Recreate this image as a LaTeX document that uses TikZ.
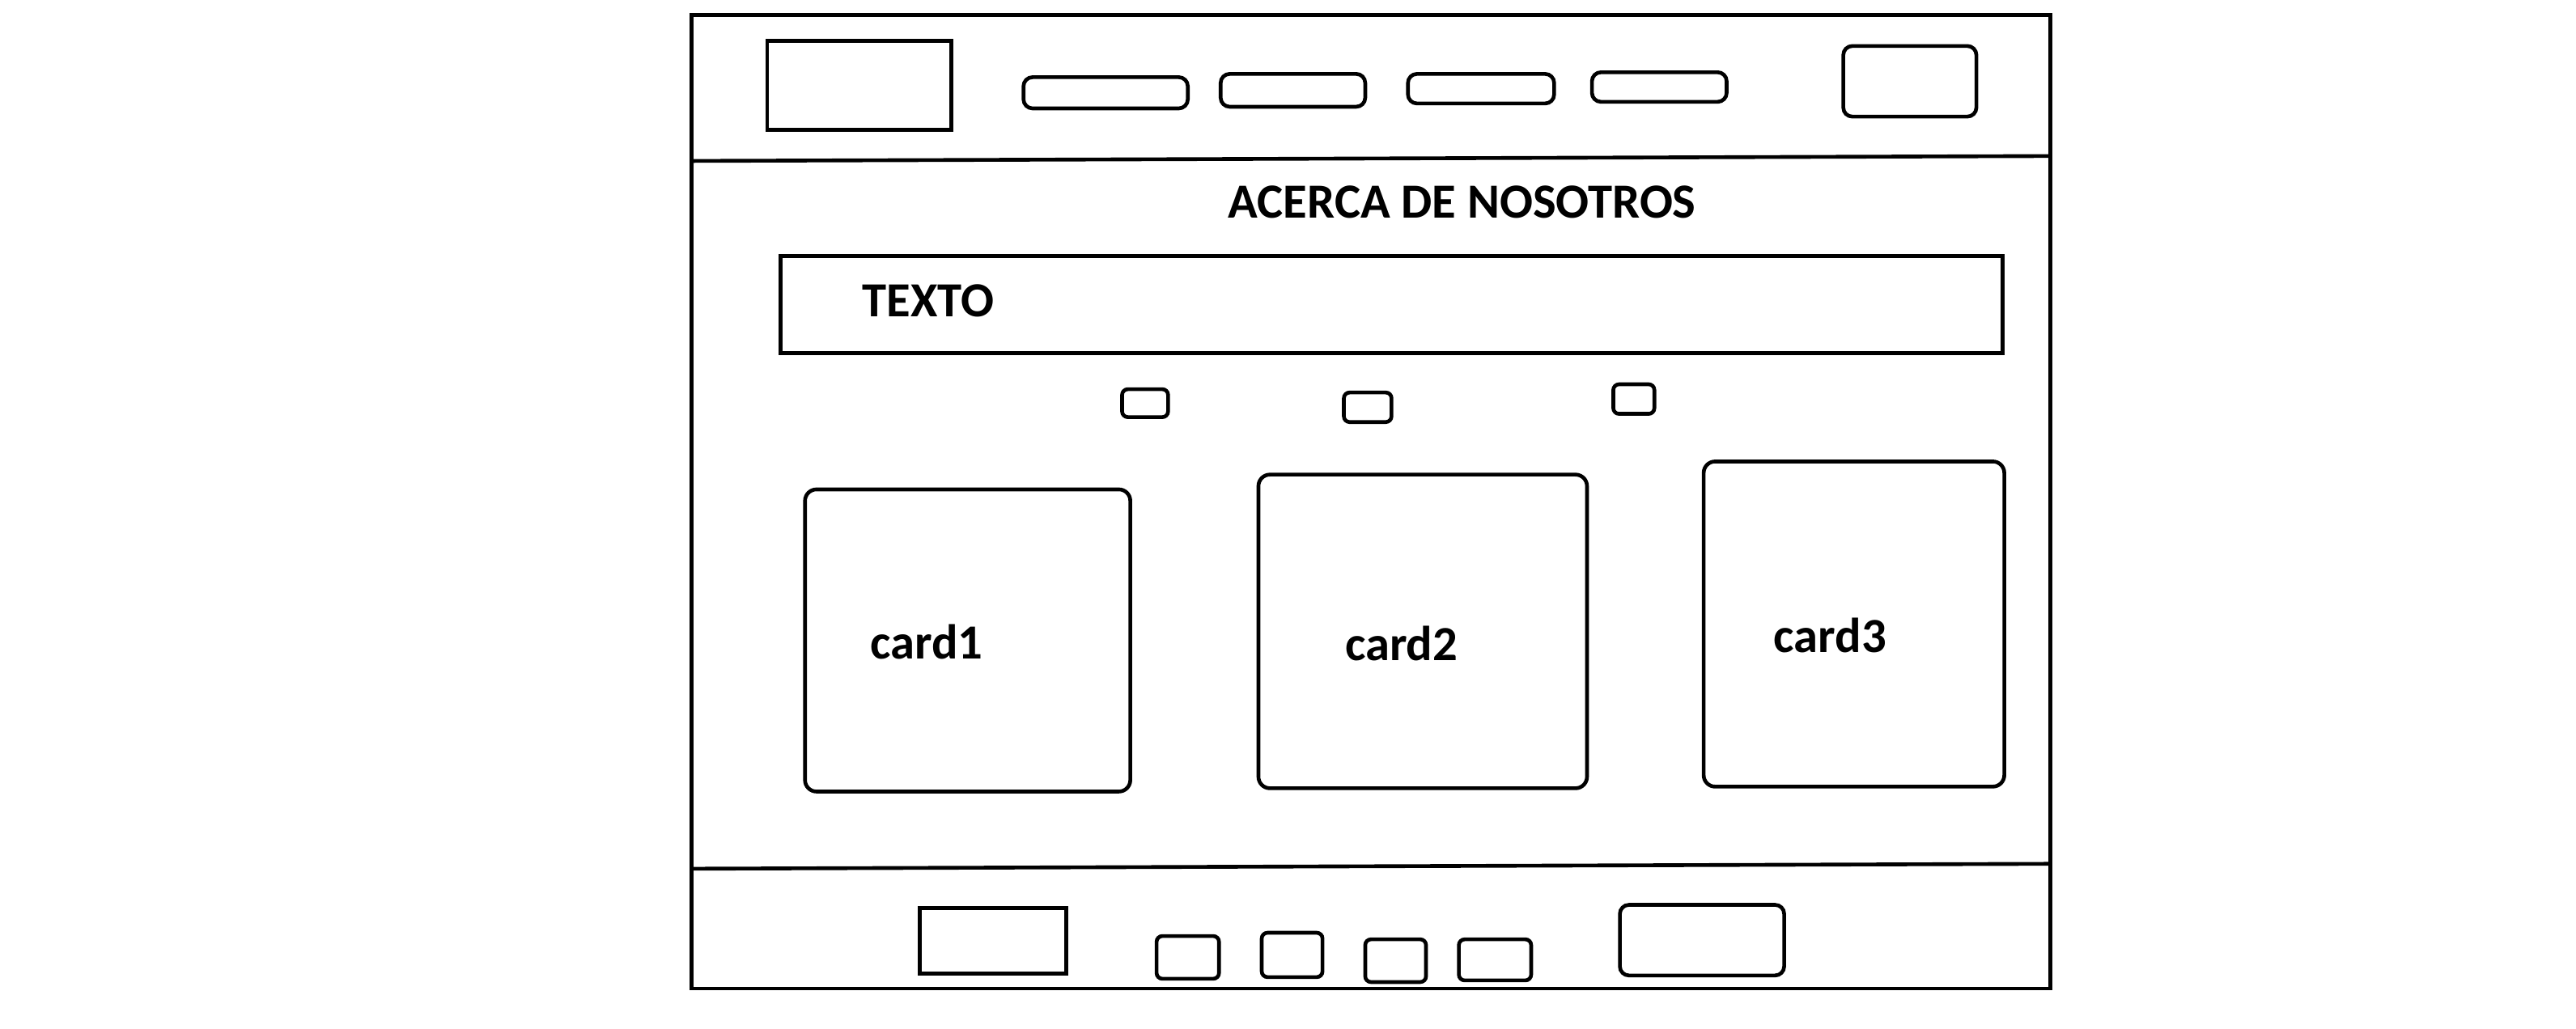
\documentclass[tikz,border=0pt]{standalone}
\usepackage{fontspec}
\setmainfont{Carlito}
\newcommand\wbox[6]{\node[#1, minimum width={(#5-#3)*0.02cm}, minimum height={(#6-#4)*0.02cm}] (#2) at ({(#3+#5)/2},{(#4+#6)/2}) {};}
\begin{document}
\begin{tikzpicture}[x=0.02cm,y=-0.02cm,
  frame/.style={draw, line width=1.3pt, inner sep=0pt, outer sep=0pt},
  sq/.style={frame},
  pill/.style={frame, rounded corners=0.11cm},
  card/.style={frame, rounded corners=0.14cm},
  tiny/.style={frame, rounded corners=0.07cm},
  lbl/.style={font=\fontsize{17}{20}\selectfont\bfseries, inner sep=0pt}]
\useasboundingbox (0,0) rectangle (1568,626.6);
% outer frame
\wbox{sq}{page}{421}{9}{1248}{602}
\draw[line width=1.3pt] (421,98) -- (1248,95);
\draw[line width=1.3pt] (421,529) -- (1248,526);
% header
\wbox{sq}{logo}{467}{25}{579}{79}
\wbox{pill}{nav1}{623}{47}{723}{66}
\wbox{pill}{nav2}{743}{45}{831}{65}
\wbox{pill}{nav3}{857}{45}{946}{63}
\wbox{pill}{nav4}{969}{44}{1051}{62}
\wbox{pill}{btn}{1122}{28}{1203}{71}
% title and text
\node[lbl] (title) at (890,123) {ACERCA DE NOSOTROS};
\wbox{sq}{textbox}{475}{156}{1219}{215}
\node[lbl] (texto) at (565,183) {TEXTO};
% small squares
\wbox{tiny}{s1}{683}{237}{711}{254}
\wbox{tiny}{s2}{818}{239}{847}{257}
\wbox{tiny}{s3}{982}{234}{1007}{252}
% cards
\wbox{card}{c1}{490}{298}{688}{482}
\wbox{card}{c2}{766}{289}{966}{480}
\wbox{card}{c3}{1037}{281}{1220}{479}
\node[lbl] (c1l) at (564,391) {card1};
\node[lbl] (c2l) at (853,392) {card2};
\node[lbl] (c3l) at (1114,387) {card3};
% footer
\wbox{sq}{flogo}{560}{553}{649}{593}
\wbox{tiny}{f1}{704}{570}{742}{596}
\wbox{tiny}{f2}{768}{568}{805}{595}
\wbox{tiny}{f3}{831}{572}{868}{598}
\wbox{tiny}{f4}{888}{572}{932}{597}
\wbox{pill}{fbtn}{986}{551}{1086}{594}
\end{tikzpicture}
\end{document}
